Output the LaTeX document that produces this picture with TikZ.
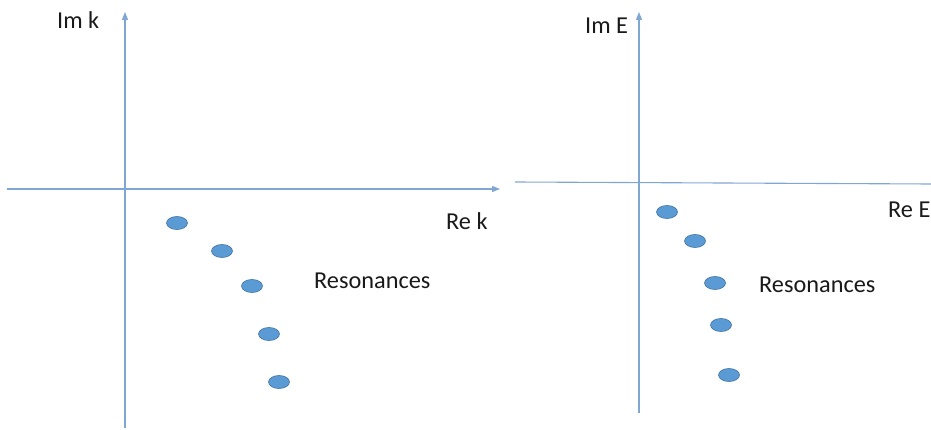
\documentclass[tikz,border=0pt]{standalone}
\usepackage{fontspec}
\setmainfont{Carlito}
\usetikzlibrary{arrows.meta,shapes.geometric}
\definecolor{axisblue}{HTML}{7FA7D4}
\definecolor{dotfill}{HTML}{5B9BD5}
\definecolor{dotline}{HTML}{41719C}
\tikzset{
  axisline/.style={draw=axisblue, line width=1.1pt},
  axisarrow/.style={axisline, -{Triangle[length=8pt,width=6pt]}},
  res/.style={ellipse, draw=dotline, fill=dotfill, line width=0.6pt, minimum width=21pt, minimum height=13pt, inner sep=0pt},
  lbl/.style={anchor=base west, inner sep=0pt, font=\fontsize{24.3}{27}\selectfont, text=black!90},
}
\begin{document}
\begin{tikzpicture}[x=1pt,y=-1pt]
\useasboundingbox (0,0) rectangle (931,430);
% left plot
\coordinate (lvb) at (125,428);
\coordinate (lvt) at (125,12);
\coordinate (lhl) at (7,189);
\coordinate (lhr) at (500,189);
\draw[axisarrow] (lvb) -- (lvt);
\draw[axisarrow] (lhl) -- (lhr);
\node[res] (l1) at (177,223) {};
\node[res] (l2) at (222,251) {};
\node[res] (l3) at (252,286) {};
\node[res] (l4) at (269,334) {};
\node[res] (l5) at (279,382) {};
\node[lbl] (imk) at (57,29) {Im k};
\node[lbl] (rek) at (446,230) {Re k};
\node[lbl] (resl) at (314,288) {Resonances};
% right plot
\coordinate (rvb) at (639,413);
\coordinate (rvt) at (639,12);
\coordinate (rhl) at (515,182);
\coordinate (rhr) at (931,184);
\draw[axisarrow] (rvb) -- (rvt);
\draw[axisline] (rhl) -- (rhr);
\node[res] (r1) at (667,212) {};
\node[res] (r2) at (695,241) {};
\node[res] (r3) at (715,283) {};
\node[res] (r4) at (721,325) {};
\node[res] (r5) at (729,375) {};
\node[lbl] (ime) at (585,34) {Im E};
\node[lbl] (ree) at (888,218) {Re E};
\node[lbl] (resr) at (759,292) {Resonances};
\end{tikzpicture}
\end{document}
